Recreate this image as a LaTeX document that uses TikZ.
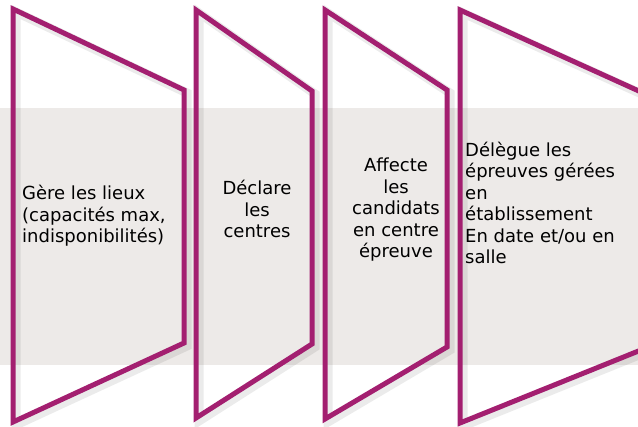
\documentclass[tikz,border=0pt]{standalone}
\usepackage{fontspec}
\setmainfont{DejaVu Sans}
\definecolor{panelpurple}{RGB}{163,31,112}
\definecolor{bandgray}{RGB}{237,234,232}
\tikzset{
  panel/.style={draw=panelpurple, line width=5pt, line join=miter},
  panelshadow/.style={draw=black, opacity=0.08, line width=9pt, shift={(3pt,-3pt)}},
  paneltext/.style={font=\fontsize{18}{21.5}\selectfont, inner sep=0pt}
}
\begin{document}
\begin{tikzpicture}[x=1pt, y=-1pt]
  \useasboundingbox (0,0) rectangle (638,427);
  \fill[bandgray] (0,108) rectangle (638,365);
  \foreach \xa/\ya/\xb/\yb/\yc/\yd in {13/9/184/90/343/422, 196/10/312/91/344/418, 325/10/447/90/347/419, 460/10/641/92/350/423}{
    \draw[panelshadow] (\xa,\ya) -- (\xb,\yb) -- (\xb,\yc) -- (\xa,\yd) -- cycle;
    \draw[panel] (\xa,\ya) -- (\xb,\yb) -- (\xb,\yc) -- (\xa,\yd) -- cycle;
  }
  \node[paneltext, align=left, anchor=base west] (lieux) at (22,243) {Gère les lieux\\(capacités max,\\indisponibilités)};
  \node[paneltext, align=center, anchor=base] (centres) at (257,238) {Déclare\\les\\centres};
  \node[paneltext, align=center, anchor=base] (candidats) at (396,258) {Affecte\\les\\candidats\\en centre\\épreuve};
  \node[paneltext, align=left, anchor=base west] (delegue) at (465,264) {Délègue les\\épreuves gérées\\en\\établissement\\En date et/ou en\\salle};
\end{tikzpicture}
\end{document}
